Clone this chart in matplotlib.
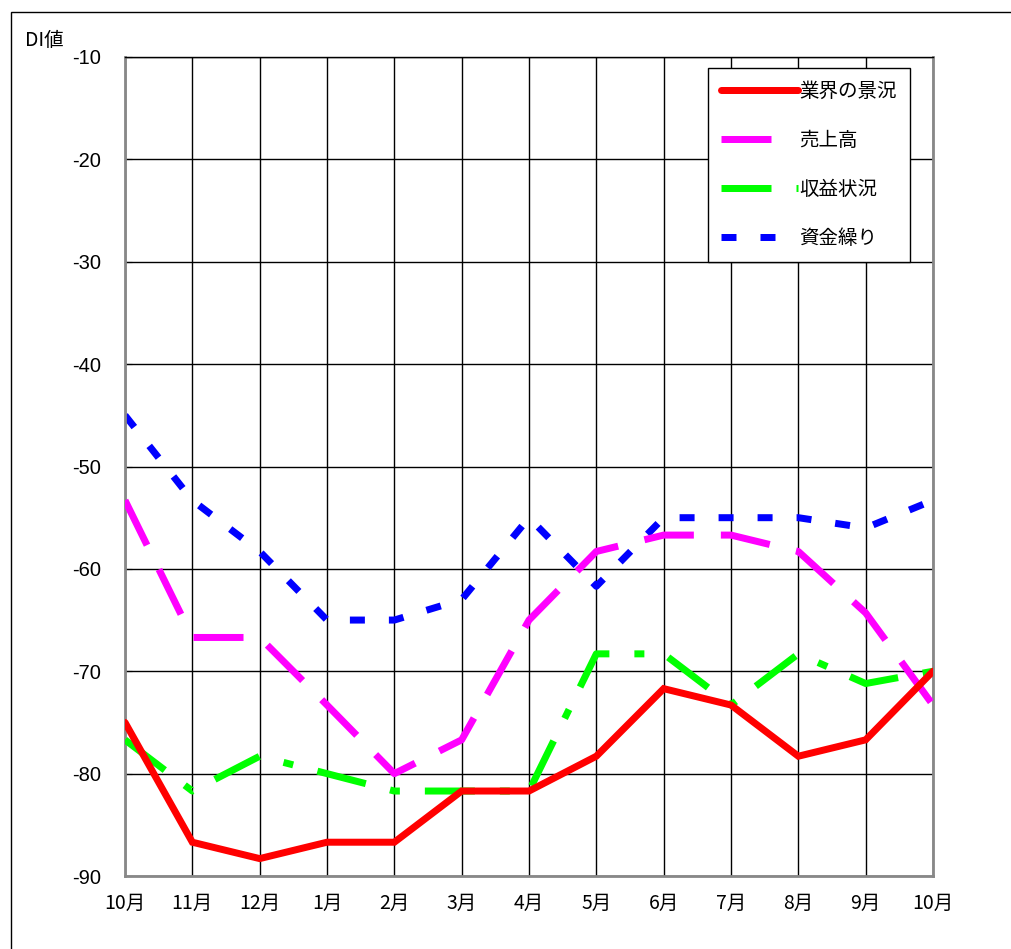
import numpy as np
import matplotlib
matplotlib.use('Agg')
import matplotlib.pyplot as plt
from matplotlib.patches import Rectangle

plt.rcParams['font.family'] = ['Noto Sans CJK JP', 'DejaVu Sans']
plt.rcParams['lines.scale_dashes'] = False

# data
months = ['10月', '11月', '12月', '1月', '2月', '3月', '4月',
          '5月', '6月', '7月', '8月', '9月', '10月']
gyokai = [-75.0, -86.7, -88.3, -86.7, -86.7, -81.7, -81.7,
          -78.3, -71.7, -73.3, -78.3, -76.7, -70.0]
uriage = [-53.3, -66.7, -66.7, -73.3, -80.0, -76.7, -65.0,
          -58.3, -56.7, -56.7, -58.3, -64.3, -73.3]
shueki = [-76.7, -81.7, -78.3, -80.0, -81.7, -81.7, -81.7,
          -68.3, -68.3, -73.3, -68.3, -71.2, -70.0]
shikin = [-45.0, -53.3, -58.3, -65.0, -65.0, -63.0, -55.0,
          -61.7, -55.0, -55.0, -55.0, -56.0, -53.3]
yticks = [-90, -80, -70, -60, -50, -40, -30, -20, -10]

W, H = 1012, 949
fig = plt.figure(figsize=(W / 100, H / 100), dpi=100)
ax = fig.add_axes([125 / W, 1 - 876 / H, (933 - 125) / W, (876 - 57) / H])

# outer frame of the sheet
fig.patches.append(Rectangle((11 / W, -0.01), 1.05, 1 - 12 / H + 0.01,
                             transform=fig.transFigure, fill=False,
                             edgecolor='black', linewidth=1.0))

x = np.arange(len(months))
px = 0.72  # points per pixel at dpi 100

ax.plot(x, gyokai, color='#ff0000', lw=7 * px, solid_capstyle='round',
        solid_joinstyle='miter', label='業界の景況', zorder=5)
ax.plot(x, uriage, color='#ff00ff', lw=7 * px,
        dashes=(50 * px, 27 * px), dash_capstyle='butt', label='売上高', zorder=4)
ax.plot(x, shueki, color='#00ff00', lw=7 * px,
        dashes=(50 * px, 25 * px, 10 * px, 25 * px), dash_capstyle='butt',
        label='収益状況', zorder=3)
ax.plot(x, shikin, color='#0000ff', lw=7 * px,
        dashes=(15 * px, 24 * px), dash_capstyle='butt', label='資金繰り', zorder=2)

ax.set_xlim(0, len(months) - 1)
ax.set_ylim(-90, -10)
ax.set_yticks(yticks)
ax.set_yticklabels([str(v) for v in yticks], fontsize=14.5,
                   family=['Liberation Sans', 'DejaVu Sans'])
ax.set_xticks(x)
ax.set_xticklabels(months, fontsize=14)
ax.tick_params(axis='y', direction='in', length=5, pad=17, color='black')
ax.tick_params(axis='x', length=0, pad=12)

ax.grid(True, color='black', linewidth=1.0)
ax.set_axisbelow(True)
for s in ['left', 'bottom', 'right']:
    ax.spines[s].set_color('#888888')
    ax.spines[s].set_linewidth(2)
ax.spines['top'].set_color('black')
ax.spines['top'].set_linewidth(1.0)

fig.text(25 / W, 1 - 40 / H, 'DI値', fontsize=14, va='center', ha='left')

leg = ax.legend(loc='upper left',
                bbox_to_anchor=((708 - 125) / (933 - 125), 1 - (68 - 57) / (876 - 57)),
                fontsize=14, frameon=True, fancybox=False, handlelength=4.0,
                handletextpad=0.05, labelspacing=1.45, borderpad=0.65,
                borderaxespad=0)
leg.get_frame().set_edgecolor('black')
leg.get_frame().set_linewidth(1.0)
leg.get_frame().set_alpha(1)

fig.savefig('out.png', dpi=100)
